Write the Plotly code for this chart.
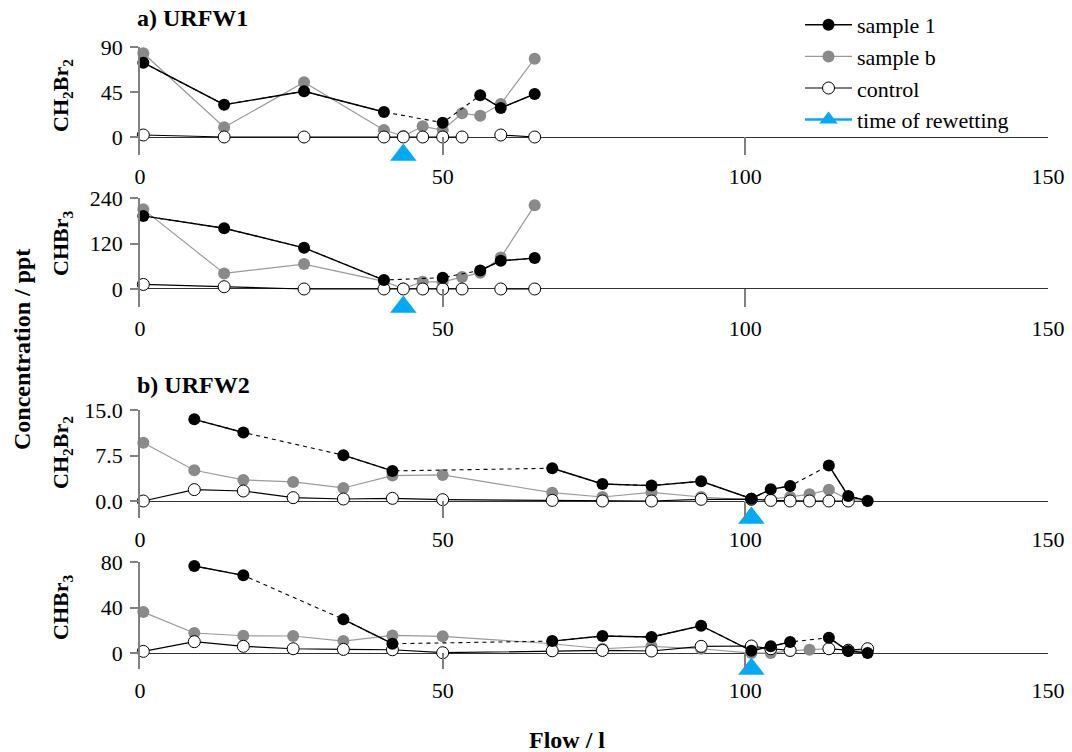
import plotly.graph_objects as go

# ---------------- data ----------------
flow_a = [0.55, 13.9, 27.1, 40.3, 43.5, 46.7, 50.0, 53.2, 56.2, 59.6, 65.2]
a_ch2br2_s1 = [74.3, 32.3, 45.7, 25.0, None, None, 14.3, None, 41.7, 29.0, 43.0]
a_ch2br2_sb = [83.7, 9.7, 54.7, 7.0, 1.0, 10.7, 7.0, 23.7, 21.3, 33.0, 78.3]
a_ch2br2_ctrl = [2.0, 0, 0, 0, 0, 0, 0, 0, None, 2.0, 0]
a_chbr3_s1 = [192.7, 160.3, 108.6, 23.6, None, None, 29.8, None, 49.0, 74.5, 81.5]
a_chbr3_sb = [210, 41, 65.7, 20, 1, 19, 19, 31.5, 43, 83, 220.7]
a_chbr3_ctrl = [12, 6, 0, 0, 0, 0, 0, 0, None, 0, 0]

flow_b = [0.55, 8.97, 17.07, 25.3, 33.6, 41.7, 50.0, 68.1, 76.4, 84.5, 92.7,
          101.0, 104.2, 107.4, 110.6, 113.8, 117.0, 120.2]
b_ch2br2_s1 = [None, 13.46, 11.3, None, 7.55, 4.96, None, 5.4, 2.81, 2.54, 3.25,
               0.39, 1.93, 2.48, None, 5.85, 0.83, 0.0]
b_ch2br2_sb = [9.6, 5.07, 3.47, 3.14, 2.15, 4.19, 4.3, 1.38, 0.66, 1.43, 0.66,
               0.2, 0.3, 0.66, 1.1, 1.87, 0.28, 0.05]
b_ch2br2_ctrl = [0, 1.88, 1.65, 0.55, 0.33, 0.44, 0.22, 0.1, 0, 0, 0.28,
                 0.3, 0.1, 0, 0, 0, 0, None]
b_chbr3_s1 = [None, 76.5, 68.3, None, 29.6, 8.2, None, 10.5, 15.0, 14.1, 24.0,
              2.0, 5.9, 9.7, None, 13.5, 1.8, 0.0]
b_chbr3_sb = [36, 17.6, 15.2, 15.0, 10.5, 15.5, 14.7, 8.2, 3.8, 5.9, 3.8,
              0, 0, 2, 3, 3.8, 2.3, 1.5]
b_chbr3_ctrl = [1.5, 10, 5.9, 3.8, 3.2, 2.9, 0.3, 2.0, 2.3, 1.8, 5.9,
                6.2, 3.8, 2.3, None, 3.8, 2.5, 3.8]

rewetting_a = 43.5
rewetting_b = 101.0

x_ticks = [0, 50, 100, 150]
y_ticks = [[0, 45, 90], [0, 120, 240], [0, 7.5, 15], [0, 40, 80]]
y_ticktext = [["0", "45", "90"], ["0", "120", "240"], ["0.0", "7.5", "15.0"], ["0", "40", "80"]]

# ---------------- layout geometry ----------------
W, H = 1072, 752
FONT = "Liberation Serif"
GRAY_AX = "#808080"
BLUE = "#00A9F4"

panels = [
    dict(x=flow_a, s1=a_ch2br2_s1, sb=a_ch2br2_sb, c=a_ch2br2_ctrl, rw=rewetting_a,
         rng=[-18, 90], top=47, bot=155, tl=18),
    dict(x=flow_a, s1=a_chbr3_s1, sb=a_chbr3_sb, c=a_chbr3_ctrl, rw=rewetting_a,
         rng=[-47.5, 240], top=198, bot=307, tl=18),
    dict(x=flow_b, s1=b_ch2br2_s1, sb=b_ch2br2_sb, c=b_ch2br2_ctrl, rw=rewetting_b,
         rng=[-2.8, 15], top=410, bot=518, tl=17),
    dict(x=flow_b, s1=b_chbr3_s1, sb=b_chbr3_sb, c=b_chbr3_ctrl, rw=rewetting_b,
         rng=[-14, 80], top=562, bot=669, tl=16),
]

fig = go.Figure()
layout_axes = {}
for i, p in enumerate(panels):
    n = "" if i == 0 else str(i + 1)
    xa, ya = "x" + n, "y" + n
    first = i == 0
    # sample b
    fig.add_trace(go.Scatter(
        x=p["x"], y=p["sb"], xaxis=xa, yaxis=ya, mode="lines+markers",
        name="sample b", legendrank=2, showlegend=first, connectgaps=False,
        line=dict(color="#9a9a9a", width=1.2),
        marker=dict(color="#8a8a8a", size=12), cliponaxis=False))
    # control
    fig.add_trace(go.Scatter(
        x=p["x"], y=p["c"], xaxis=xa, yaxis=ya, mode="lines+markers",
        name="control", legendrank=3, showlegend=first, connectgaps=False,
        line=dict(color="black", width=1.2),
        marker=dict(color="white", size=12, line=dict(color="black", width=1)),
        cliponaxis=False))
    # sample 1 dashed link across missing points
    xs = [x for x, y in zip(p["x"], p["s1"]) if y is not None]
    ys = [y for y in p["s1"] if y is not None]
    fig.add_trace(go.Scatter(
        x=xs, y=ys, xaxis=xa, yaxis=ya, mode="lines", showlegend=False,
        line=dict(color="black", width=1.1, dash="4px,4px"), hoverinfo="skip",
        cliponaxis=False))
    # sample 1
    fig.add_trace(go.Scatter(
        x=p["x"], y=p["s1"], xaxis=xa, yaxis=ya, mode="lines+markers",
        name="sample 1", legendrank=1, showlegend=first, connectgaps=False,
        line=dict(color="black", width=1.4),
        marker=dict(color="black", size=12), cliponaxis=False))
    # rewetting (placed at the bottom edge of the axis)
    fig.add_trace(go.Scatter(
        x=[p["rw"]], y=[p["rng"][0] * 0.999], xaxis=xa, yaxis=ya, mode="lines+markers",
        name="time of rewetting", legendrank=4, showlegend=first,
        line=dict(color=BLUE, width=2.5),
        marker=dict(color=BLUE, size=23, symbol="triangle-up"), cliponaxis=False))

    dom = [1 - p["bot"] / H, 1 - p["top"] / H]
    layout_axes["xaxis" + n] = dict(
        domain=[140 / W, 1048 / W], range=[0, 150], anchor=ya, automargin=False,
        tickvals=x_ticks, ticks="inside", ticklen=p["tl"], tickcolor=GRAY_AX,
        tickwidth=1.5, showline=False, showgrid=False, zeroline=False,
        ticklabelstandoff=6, tickfont=dict(family=FONT, size=22, color="black"))
    layout_axes["yaxis" + n] = dict(
        domain=dom, range=p["rng"], anchor=xa, automargin=False,
        tickvals=y_ticks[i], ticktext=y_ticktext[i], ticks="outside", ticklen=8,
        tickcolor=GRAY_AX, tickwidth=1.5, showline=True, linecolor=GRAY_AX,
        linewidth=1.5, showgrid=False, zeroline=True, zerolinecolor="#333333",
        zerolinewidth=1.2, ticklabelstandoff=3,
        tickfont=dict(family=FONT, size=22, color="black"))

ytitles = [("CH<sub>2</sub>Br<sub>2</sub>", 96), ("CHBr<sub>3</sub>", 244),
           ("CH<sub>2</sub>Br<sub>2</sub>", 453), ("CHBr<sub>3</sub>", 608)]
annotations = []
for txt, yc in ytitles:
    annotations.append(dict(text="<b>" + txt + "</b>", x=62 / W, y=1 - yc / H,
                            xref="paper", yref="paper", showarrow=False, textangle=-90,
                            xanchor="center", yanchor="middle",
                            font=dict(family=FONT, size=22, color="black")))
annotations += [
    dict(text="<b>a) URFW1</b>", x=135 / W, y=1 - 18 / H, xref="paper", yref="paper",
         showarrow=False, xanchor="left", yanchor="middle",
         font=dict(family=FONT, size=24, color="black")),
    dict(text="<b>b) URFW2</b>", x=135 / W, y=1 - 385 / H, xref="paper", yref="paper",
         showarrow=False, xanchor="left", yanchor="middle",
         font=dict(family=FONT, size=24, color="black")),
    dict(text="<b>Concentration / ppt</b>", x=22 / W, y=1 - 350 / H, xref="paper",
         yref="paper", showarrow=False, textangle=-90, xanchor="center", yanchor="middle",
         font=dict(family=FONT, size=24, color="black")),
    dict(text="<b>Flow / l</b>", x=567 / W, y=1 - 740 / H, xref="paper", yref="paper",
         showarrow=False, xanchor="center", yanchor="middle",
         font=dict(family=FONT, size=24, color="black")),
]

fig.update_layout(
    template="none",
    width=W, height=H, margin=dict(l=0, r=0, t=0, b=0, autoexpand=False),
    paper_bgcolor="white", plot_bgcolor="white",
    font=dict(family=FONT, color="black"),
    annotations=annotations,
    hovermode=False,
    legend=dict(x=800 / W, y=1 - 4 / H, xanchor="left", yanchor="top",
                bgcolor="rgba(0,0,0,0)", itemwidth=47, tracegroupgap=0,
                font=dict(family=FONT, size=22, color="black")),
    **layout_axes,
)

fig.write_html("out.html",
               config={"displayModeBar": False},
               post_script="document.body.style.margin='0px';"
                           "document.body.style.overflow='hidden';")
